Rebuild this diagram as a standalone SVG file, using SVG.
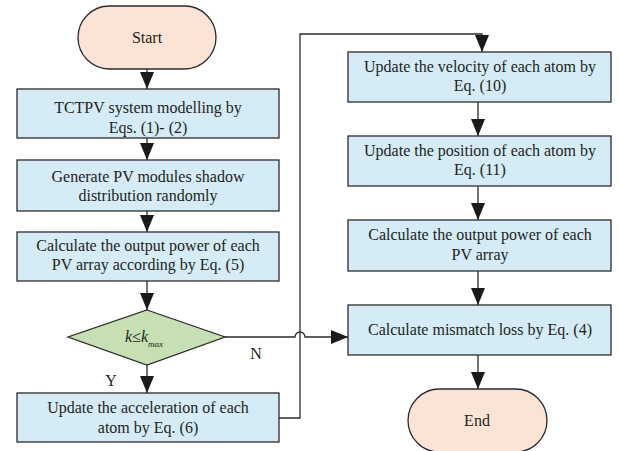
<svg xmlns="http://www.w3.org/2000/svg" width="619" height="451" viewBox="0 0 619 451">
  <style>
    .term { fill: #fbe4d6; stroke: #2b2b2b; stroke-width: 1.3; }
    .proc { fill: #d5ebf5; stroke: #2b2b2b; stroke-width: 1.3; }
    .dec { fill: #c6e0b4; stroke: #2b2b2b; stroke-width: 1.3; }
    .lbl { font-family: "Liberation Serif", "Times New Roman", serif; font-size: 16px; fill: #231f20; text-anchor: middle; }
    .flow { fill: none; stroke: #2b2b2b; stroke-width: 1.3; }
  </style>
  <defs>
    <marker id="arrow" viewBox="0 0 17 14" refX="17" refY="7" markerWidth="17" markerHeight="14" markerUnits="userSpaceOnUse" orient="auto">
      <path d="M0,0 L17,7 L0,14 Z" fill="#1a1a1a"/>
    </marker>
  </defs>

  <rect width="619" height="451" fill="#ffffff"/>

  <!-- connectors -->
  <g id="connectors">
    <path class="flow" d="M147,69 V89" marker-end="url(#arrow)"/>
    <path class="flow" d="M147,138 V160" marker-end="url(#arrow)"/>
    <path class="flow" d="M147,211 V232" marker-end="url(#arrow)"/>
    <path class="flow" d="M147,281 V310" marker-end="url(#arrow)"/>
    <path class="flow" d="M147,365 V393" marker-end="url(#arrow)"/>
    <!-- loop back from acceleration update to velocity update -->
    <path class="flow" d="M279,418 H300 V34 H482 V52" marker-end="url(#arrow)"/>
    <!-- N branch, hopping over the loop line -->
    <path class="flow" d="M225,337 H295 A5,5 0 0 1 305,337 H348" marker-end="url(#arrow)"/>
    <path class="flow" d="M478,102 V136" marker-end="url(#arrow)"/>
    <path class="flow" d="M478,186 V220" marker-end="url(#arrow)"/>
    <path class="flow" d="M478,271 V305" marker-end="url(#arrow)"/>
    <path class="flow" d="M478,355 V389" marker-end="url(#arrow)"/>
    <text class="lbl" x="256" y="359">N</text>
    <text class="lbl" x="111" y="386">Y</text>
  </g>

  <g id="start">
    <rect class="term" x="78" y="6" width="138" height="63" rx="31.5"/>
    <text class="lbl" x="147" y="43">Start</text>
  </g>

  <g id="model">
    <rect class="proc" x="17" y="89" width="262" height="49"/>
    <text class="lbl" x="148" y="113">TCTPV system modelling by</text>
    <text class="lbl" x="148" y="133">Eqs. (1)- (2)</text>
  </g>

  <g id="shadow">
    <rect class="proc" x="17" y="160" width="262" height="51"/>
    <text class="lbl" x="148" y="182">Generate PV modules shadow</text>
    <text class="lbl" x="148" y="201">distribution randomly</text>
  </g>

  <g id="power">
    <rect class="proc" x="17" y="232" width="262" height="49"/>
    <text class="lbl" x="148" y="251">Calculate the output power of each</text>
    <text class="lbl" x="148" y="270">PV array according by Eq. (5)</text>
  </g>

  <g id="check">
    <polygon class="dec" points="147,310 225,337 147,365 68,337"/>
    <text font-family="Liberation Serif, Times New Roman, serif" font-style="italic" font-size="16" fill="#231f20" x="125" y="342">k≤k<tspan font-size="9" dy="5">max</tspan></text>
  </g>

  <g id="accel">
    <rect class="proc" x="17" y="393" width="262" height="49"/>
    <text class="lbl" x="148" y="413">Update the acceleration of each</text>
    <text class="lbl" x="148" y="433">atom by Eq. (6)</text>
  </g>

  <g id="velocity">
    <rect class="proc" x="348" y="52" width="263" height="50"/>
    <text class="lbl" x="480" y="72">Update the velocity of each atom by</text>
    <text class="lbl" x="480" y="91">Eq. (10)</text>
  </g>

  <g id="position">
    <rect class="proc" x="348" y="136" width="263" height="50"/>
    <text class="lbl" x="480" y="156">Update the position of each atom by</text>
    <text class="lbl" x="480" y="175">Eq. (11)</text>
  </g>

  <g id="array-power">
    <rect class="proc" x="348" y="220" width="263" height="51"/>
    <text class="lbl" x="480" y="240">Calculate the output power of each</text>
    <text class="lbl" x="480" y="260">PV array</text>
  </g>

  <g id="mismatch">
    <rect class="proc" x="348" y="305" width="263" height="50"/>
    <text class="lbl" x="480" y="335">Calculate mismatch loss by Eq. (4)</text>
  </g>

  <g id="end">
    <rect class="term" x="408" y="389" width="139" height="63" rx="31.5"/>
    <text class="lbl" x="477" y="426">End</text>
  </g>
</svg>
